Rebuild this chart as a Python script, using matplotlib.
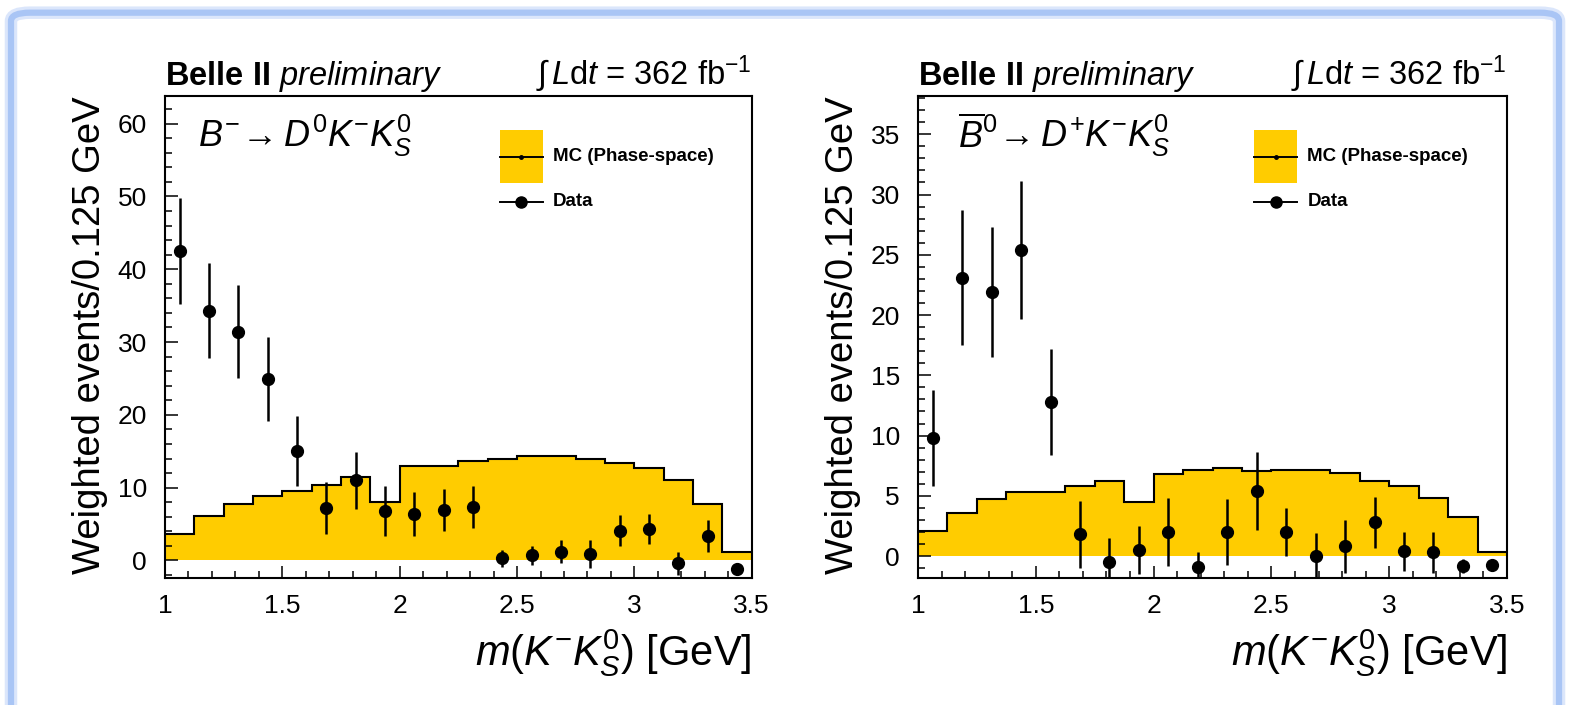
"""
Belle II preliminary: m(K- K0S) spectra for two B decay modes,
phase-space MC (filled histogram) vs weighted data points.
"""

import numpy as np
import matplotlib
matplotlib.use("Agg")
from matplotlib import pyplot as plt
from matplotlib.patches import Rectangle, FancyBboxPatch
from matplotlib.ticker import MultipleLocator, FuncFormatter

plt.rcParams['font.family'] = ['Liberation Sans', 'DejaVu Sans']
plt.rcParams['mathtext.fontset'] = 'custom'
plt.rcParams['mathtext.rm'] = 'Liberation Sans'
plt.rcParams['mathtext.it'] = 'Liberation Sans:italic'
plt.rcParams['mathtext.bf'] = 'Liberation Sans:bold'

# bin edges, 0.125 GeV wide
bin_edges = [1.0, 1.125, 1.25, 1.375, 1.5, 1.625, 1.75, 1.875, 2.0, 2.125,
             2.25, 2.375, 2.5, 2.625, 2.75, 2.875, 3.0, 3.125, 3.25, 3.375, 3.5]

# B- -> D0 K- K0S
mc_left = [3.6, 6.1, 7.8, 8.9, 9.5, 10.3, 11.4, 8.0, 13.0, 13.0,
           13.7, 14.0, 14.3, 14.3, 13.9, 13.4, 12.7, 11.0, 7.7, 1.1]
data_left = [42.5, 34.3, 31.4, 24.9, 15.0, 7.2, 11.0, 6.8, 6.4, 6.9,
             7.3, 0.3, 0.7, 1.2, 0.9, 4.1, 4.3, -0.4, 3.4, -1.2]
err_left = [7.3, 6.5, 6.4, 5.8, 4.8, 3.6, 3.9, 3.4, 3.0, 2.9,
            2.9, 1.2, 1.3, 1.6, 1.9, 2.1, 2.1, 1.6, 2.2, 0.2]

# anti-B0 -> D+ K- K0S
mc_right = [2.1, 3.6, 4.75, 5.33, 5.28, 5.83, 6.24, 4.5, 6.85, 7.15,
            7.35, 7.1, 7.15, 7.15, 6.9, 6.27, 5.8, 4.83, 3.28, 0.37]
data_right = [9.8, 23.1, 21.9, 25.4, 12.8, 1.8, -0.5, 0.5, 2.0, -0.9,
              2.0, 5.4, 2.0, 0.0, 0.8, 2.8, 0.4, 0.3, -0.8, -0.7]
err_right = [4.0, 5.6, 5.4, 5.7, 4.4, 2.8, 2.0, 2.0, 2.8, 1.2,
             2.7, 3.2, 2.0, 1.9, 2.2, 2.1, 1.6, 1.7, 0.6, 0.2]

x_ticks = [1, 1.5, 2, 2.5, 3, 3.5]

YELLOW = '#ffcc00'


def draw_panel(ax, mc, data, err, ylim, ymajor, yminor, decay_label, decay_x):
    edges = np.array(bin_edges)
    centers = 0.5 * (edges[1:] + edges[:-1])
    ax.stairs(mc, edges, fill=True, color=YELLOW, lw=0)
    ax.stairs(mc, edges, baseline=None, color='k', lw=1.5)
    ax.errorbar(centers, data, yerr=err, fmt='o', color='k', ms=8.5,
                elinewidth=1.8, capsize=0)

    ax.set_xlim(1.0, 3.5)
    ax.set_ylim(*ylim)
    ax.set_xticks(x_ticks)
    ax.xaxis.set_minor_locator(MultipleLocator(0.1))
    ax.yaxis.set_major_locator(MultipleLocator(ymajor))
    ax.yaxis.set_minor_locator(MultipleLocator(yminor))
    ax.xaxis.set_major_formatter(FuncFormatter(lambda v, p: '%g' % v))
    ax.tick_params(which='both', direction='in', top=False, right=False,
                   width=1.1, labelsize=19)
    ax.tick_params(which='major', length=9)
    ax.tick_params(which='minor', length=5)
    ax.tick_params(axis='x', pad=12)
    ax.tick_params(axis='y', pad=13)
    for s in ax.spines.values():
        s.set_linewidth(1.5)

    # texts
    ax.text(0.0, 1.023, r'$\mathbf{Belle\ II}$ $\mathit{preliminary}$',
            transform=ax.transAxes, fontsize=23.5, va='baseline', ha='left')
    ax.text(1.0, 1.023, r'$\int\,\mathit{L}$d$\mathit{t}$ = 362 fb$^{-1}$',
            transform=ax.transAxes, fontsize=23.5, va='baseline', ha='right')
    ax.text(decay_x, 0.895, decay_label, transform=ax.transAxes, fontsize=26,
            va='baseline', ha='left')
    ax.text(-0.128, 1.0, 'Weighted events/0.125 GeV', rotation=90,
            transform=ax.transAxes, fontsize=27.5, ha='center', va='top')
    ax.text(1.0, -0.183, r'$\mathit{m(K^{-}K^{0}_{S})}$ [GeV]',
            transform=ax.transAxes, fontsize=30, ha='right', va='baseline')

    # hand-made ROOT style legend
    ax.add_patch(Rectangle((0.571, 0.819), 0.073, 0.11, transform=ax.transAxes,
                           color=YELLOW, lw=0, clip_on=False))
    ax.plot([0.571, 0.644], [0.874, 0.874], transform=ax.transAxes,
            color='k', lw=1.4)
    ax.plot([0.6075], [0.874], 'ko', ms=2.5, transform=ax.transAxes)
    ax.text(0.661, 0.874, 'MC (Phase-space)', transform=ax.transAxes,
            fontsize=13.5, fontweight='bold', va='center')
    ax.plot([0.571, 0.644], [0.78, 0.78], transform=ax.transAxes,
            color='k', lw=1.4)
    ax.plot([0.6075], [0.78], 'ko', ms=8, transform=ax.transAxes)
    ax.text(0.661, 0.78, 'Data', transform=ax.transAxes,
            fontsize=13.5, fontweight='bold', va='center')


fig = plt.figure(figsize=(15.7, 7.05), dpi=100)

# light blue slide frame
fig.patches.append(FancyBboxPatch((0.007, -0.05), 0.986, 1.032,
                                  boxstyle='round,pad=0,rounding_size=0.012',
                                  transform=fig.transFigure, fill=False,
                                  ec='#dbe6fb', lw=9, zorder=0))
fig.patches.append(FancyBboxPatch((0.007, -0.05), 0.986, 1.032,
                                  boxstyle='round,pad=0,rounding_size=0.012',
                                  transform=fig.transFigure, fill=False,
                                  ec='#a9c5f5', lw=4.5, zorder=1))

ax1 = fig.add_axes([0.1051, 0.1806, 0.3737, 0.6833])
ax2 = fig.add_axes([0.5847, 0.1806, 0.3752, 0.6833])

draw_panel(ax1, mc_left, data_left, err_left, (-2.36, 63.8), 10, 2,
           r'$\mathit{B^{-}\!\rightarrow D^{0}K^{-}K^{0}_{S}}$', 0.056)
draw_panel(ax2, mc_right, data_right, err_right, (-1.79, 38.18), 5, 1,
           r'$\mathit{\overline{B}^{0}\!\rightarrow D^{+}K^{-}K^{0}_{S}}$', 0.068)

fig.savefig('out.png', dpi=100)
